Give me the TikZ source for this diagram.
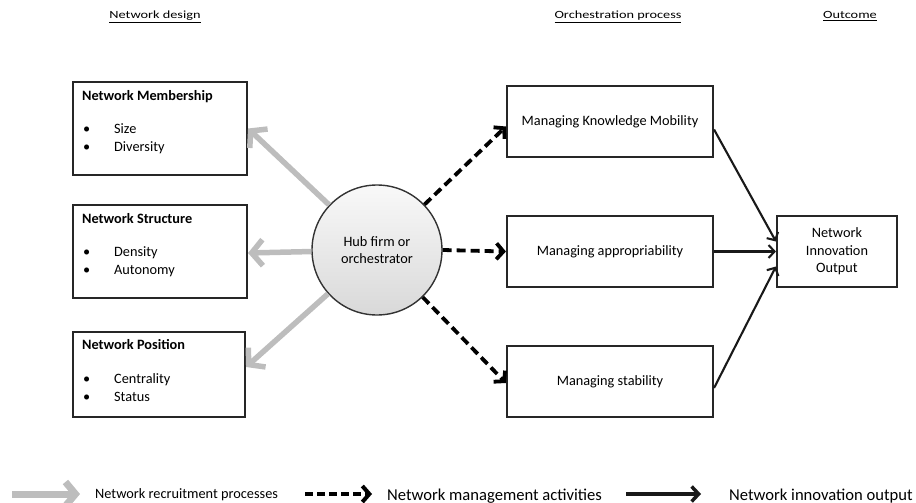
\documentclass[tikz,border=0pt]{standalone}
\usepackage{fontspec}
\setmainfont{Carlito}
\newfontfamily\headfont[FakeStretch=1.3]{Carlito}
\usetikzlibrary{arrows.meta,calc}

\begin{document}
\begin{tikzpicture}[x=1pt,y=-1pt,
    tbox/.style={draw=black!85,line width=2.1pt,inner sep=0pt,align=center,
      font=\fontsize{14.3}{17.5}\selectfont},
    label/.style={anchor=base west,inner sep=0pt,font=\fontsize{14.3}{17.5}\selectfont},
    head/.style={anchor=base,inner sep=0pt,font=\headfont\fontsize{11}{13}\selectfont},
    hub/.style={circle,draw=black!80,line width=1.4pt,minimum size=130pt,inner sep=0pt,
      top color=gray!5,bottom color=gray!30,align=center,
      font=\fontsize{14.3}{17}\selectfont},
    recruit/.style={draw=black!26,line width=5.5pt,
      -{Straight Barb[length=11pt,width=26pt]}},
    manage/.style={draw=black,line width=3.8pt,dash pattern=on 9pt off 5pt,
      -{Straight Barb[length=7pt,width=16pt]}},
    innov/.style={draw=black!90,line width=2.1pt,
      -{Straight Barb[length=6pt,width=13pt]}}]

  \useasboundingbox (0,0) rectangle (916,503);

  % column headings
  \node[head] (hDesign) at (155,19) {\underline{Network design}};
  \node[head] (hOrch) at (618,19) {\underline{Orchestration process}};
  \node[head] (hOut) at (850,19) {\underline{Outcome}};

  % network design boxes
  \node[tbox,minimum width=174pt,minimum height=93pt] (mem) at (160,128.5) {};
  \node[tbox,minimum width=174pt,minimum height=93pt] (struc) at (160,251.5) {};
  \node[tbox,minimum width=172pt,minimum height=85pt] (pos) at (159,374.5) {};

  \node[label,font=\fontsize{14.3}{17.5}\selectfont\bfseries] (memT) at ($(mem.north west)+(10,19.5)$) {Network Membership};
  \node[label] (memB1) at ($(mem.north west)+(11,52.5)$) {\textbullet};
  \node[label] (memA) at ($(mem.north west)+(42,52.5)$) {Size};
  \node[label] (memB2) at ($(mem.north west)+(11,71)$) {\textbullet};
  \node[label] (memB) at ($(mem.north west)+(42,71)$) {Diversity};

  \node[label,font=\fontsize{14.3}{17.5}\selectfont\bfseries] (strucT) at ($(struc.north west)+(10,19.5)$) {Network Structure};
  \node[label] (strucB1) at ($(struc.north west)+(11,52.5)$) {\textbullet};
  \node[label] (strucA) at ($(struc.north west)+(42,52.5)$) {Density};
  \node[label] (strucB2) at ($(struc.north west)+(11,71)$) {\textbullet};
  \node[label] (strucB) at ($(struc.north west)+(42,71)$) {Autonomy};

  \node[label,font=\fontsize{14.3}{17.5}\selectfont\bfseries] (posT) at ($(pos.north west)+(10,19)$) {Network Position};
  \node[label] (posB1) at ($(pos.north west)+(11,53)$) {\textbullet};
  \node[label] (posA) at ($(pos.north west)+(42,53)$) {Centrality};
  \node[label] (posB2) at ($(pos.north west)+(11,71)$) {\textbullet};
  \node[label] (posB) at ($(pos.north west)+(42,71)$) {Status};

  % hub
  \node[hub] (hub) at (377,250) {Hub firm or\\orchestrator};

  % orchestration boxes and outcome
  \node[tbox,minimum width=206pt,minimum height=71pt] (km) at (610,121.5) {Managing Knowledge Mobility};
  \node[tbox,minimum width=206pt,minimum height=71pt] (app) at (610,251.5) {Managing appropriability};
  \node[tbox,minimum width=206pt,minimum height=71pt] (stab) at (610,381.5) {Managing stability};
  \node[tbox,minimum width=120pt,minimum height=71pt] (out) at (837,251.5) {Network\\Innovation\\Output};

  % connectors
  \draw[recruit] (hub) -- (mem.east);
  \draw[recruit] (hub) -- ([yshift=-1.5pt]struc.east);
  \draw[recruit] (hub) -- ([yshift=7.5pt]pos.east);

  \draw[manage] (hub) -- ([yshift=-5pt]km.west);
  \draw[manage] (hub.east) -- (app.west);
  \draw[manage] (hub) -- ([yshift=-1.5pt]stab.west);

  \draw[innov] ([yshift=-8pt]km.east) -- ([yshift=10pt]out.west);
  \draw[innov] (app.east) -- (out.west);
  \draw[innov] ([yshift=-6.5pt]stab.east) -- ([yshift=-15pt]out.west);

  % legend
  \coordinate (lgA1) at (12,494);
  \coordinate (lgA2) at (80,494);
  \coordinate (lgB1) at (305,494);
  \coordinate (lgB2) at (372,494);
  \coordinate (lgC1) at (626,494);
  \coordinate (lgC2) at (701,494);
  \draw[recruit,line width=7pt,-{Straight Barb[length=10pt,width=24pt]}] (lgA1) -- (lgA2);
  \draw[manage,line width=4pt,dash pattern=on 8pt off 4pt] (lgB1) -- (lgB2);
  \draw[innov,line width=3.5pt,-{Straight Barb[length=7pt,width=15pt]}] (lgC1) -- (lgC2);
  \node[label] (lgA) at (95,498) {Network recruitment processes};
  \node[label,font=\fontsize{16.6}{19}\selectfont] (lgB) at (387,500) {Network management activities};
  \node[label,font=\fontsize{16.6}{19}\selectfont] (lgC) at (729,500) {Network innovation output};
\end{tikzpicture}
\end{document}
